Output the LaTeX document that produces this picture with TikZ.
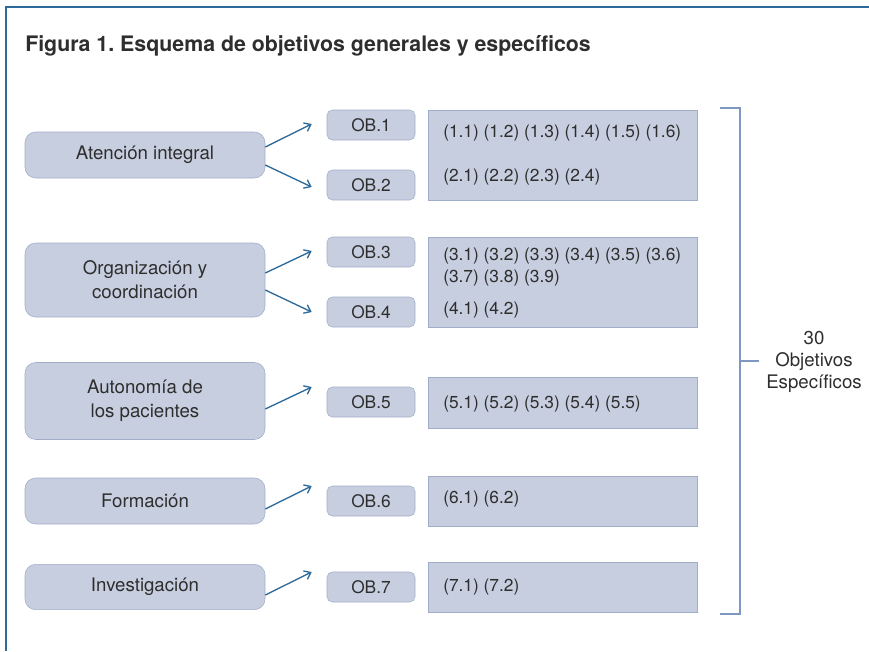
\documentclass[tikz,border=0pt]{standalone}
\usepackage{fontspec}
\setmainfont{TeX Gyre Heros}
\usetikzlibrary{arrows.meta,calc}
\frenchspacing
\definecolor{boxfill}{HTML}{C7CEDF}
\definecolor{boxline}{HTML}{A0ADC7}
\definecolor{linkblue}{HTML}{2D6A9A}
\definecolor{frameblue}{HTML}{2F6A9C}
\definecolor{bracketblue}{HTML}{7E98C3}
\definecolor{txt}{HTML}{2E2E2E}
\begin{document}
\begin{tikzpicture}[x=0.75pt,y=-0.75pt,
    general/.style={draw=boxline,fill=boxfill,rounded corners=8pt,minimum width=180pt,
      inner sep=0pt,align=center,text=txt,font=\fontsize{14}{18}\selectfont},
    ob/.style={draw=boxline,fill=boxfill,rounded corners=4pt,minimum width=66pt,
      minimum height=22.5pt,inner sep=0pt,text=txt,font=\fontsize{13}{16}\selectfont},
    spec/.style={draw=boxline,fill=boxfill,minimum width=201.75pt,inner sep=0pt},
    item/.style={anchor=west,inner sep=0pt,text=txt,font=\fontsize{13}{16}\selectfont},
    link/.style={draw=linkblue,line width=1pt,-{Straight Barb[length=4.5pt,width=7pt]}}]
  \useasboundingbox (0,0) rectangle (869,651);
  % frame and title
  \draw[frameblue,line width=2.2pt] (6,651) -- (6,7) -- (869,7);
  \node[anchor=west,inner sep=0pt,font=\fontsize{16}{19}\selectfont\bfseries,text=txt]
    (title) at (25,46) {Figura 1. Esquema de objetivos generales y específicos};
  % objetivos generales
  \node[general,minimum height=34.5pt] (gen1) at (145,155) {Atención integral};
  \node[general,minimum height=55.5pt] (gen2) at (145,280) {Organización y\\coordinación};
  \node[general,minimum height=57.75pt] (gen3) at (145,401) {Autonomía de\\los pacientes};
  \node[general,minimum height=34.5pt] (gen4) at (145,501) {Formación};
  \node[general,minimum height=34pt] (gen5) at (145,587) {Investigación};
  % OB
  \node[ob] (ob1) at (371,125) {OB.1};
  \node[ob] (ob2) at (371,185) {OB.2};
  \node[ob] (ob3) at (371,252) {OB.3};
  \node[ob] (ob4) at (371,312) {OB.4};
  \node[ob] (ob5) at (371,402) {OB.5};
  \node[ob] (ob6) at (371,501) {OB.6};
  \node[ob] (ob7) at (371,587) {OB.7};
  % objetivos especificos
  \node[spec,minimum height=67.5pt] (spec1) at (562.5,155) {};
  \node[spec,minimum height=67.5pt] (spec2) at (562.5,282) {};
  \node[spec,minimum height=38.25pt] (spec3) at (562.5,402.5) {};
  \node[spec,minimum height=37.5pt] (spec4) at (562.5,501) {};
  \node[spec,minimum height=37.5pt] (spec5) at (562.5,587) {};
  \node[item] (it11) at (443,133) {(1.1) (1.2) (1.3) (1.4) (1.5) (1.6)};
  \node[item] (it21) at (443,177) {(2.1) (2.2) (2.3) (2.4)};
  \node[item] (it31) at (443,256) {(3.1) (3.2) (3.3) (3.4) (3.5) (3.6)};
  \node[item] (it37) at (443,278) {(3.7) (3.8) (3.9)};
  \node[item] (it41) at (443,310) {(4.1) (4.2)};
  \node[item] (it51) at (443,404) {(5.1) (5.2) (5.3) (5.4) (5.5)};
  \node[item] (it61) at (443,499) {(6.1) (6.2)};
  \node[item] (it71) at (443,587) {(7.1) (7.2)};
  % arrows
  \begin{scope}
    \draw[link] ($(gen1.east)+(0,-8)$) -- ($(ob1.west)+(-15,-1)$);
    \draw[link] ($(gen1.east)+(0,10)$) -- ($(ob2.west)+(-15,2)$);
    \draw[link] ($(gen2.east)+(0,-7)$) -- ($(ob3.west)+(-15,-1)$);
    \draw[link] ($(gen2.east)+(0,10)$) -- ($(ob4.west)+(-15,0)$);
    \draw[link] ($(gen3.east)+(0,8)$) -- ($(ob5.west)+(-15,-15)$);
    \draw[link] ($(gen4.east)+(0,8)$) -- ($(ob6.west)+(-15,-15)$);
    \draw[link] ($(gen5.east)+(0,8)$) -- ($(ob7.west)+(-15,-15)$);
  \end{scope}
  % bracket
  \node[align=center,inner sep=0pt,text=txt,font=\fontsize{14}{16.5}\selectfont]
    (total) at (814,362) {30\\Objetivos\\Específicos};
  \coordinate (mid) at (740,361);
  \draw[bracketblue,line width=1pt] (720,108) -- (740,108) -- (740,614) -- (720,614);
  \draw[bracketblue,line width=1pt] (mid) -- ([xshift=-5pt]total.west |- mid);
\end{tikzpicture}
\end{document}
